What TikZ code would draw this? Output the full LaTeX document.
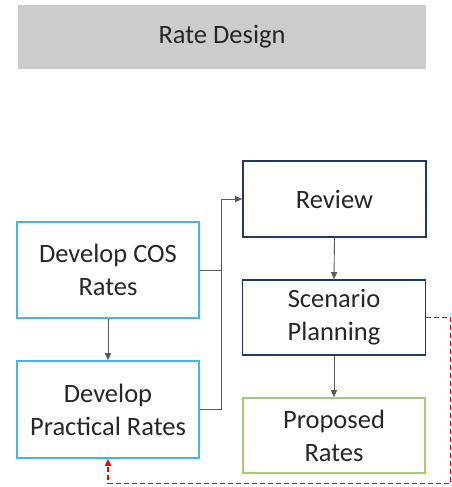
\documentclass[tikz,border=0pt]{standalone}
\usepackage{fontspec}
\setmainfont{Carlito}
\usetikzlibrary{arrows.meta}
\definecolor{titlegray}{HTML}{CCCCCC}
\definecolor{cyanb}{HTML}{3DB8EA}
\definecolor{navyb}{HTML}{203864}
\definecolor{greenb}{HTML}{A0D06E}
\definecolor{linegray}{HTML}{595959}
\definecolor{fbred}{HTML}{FF0000}
\tikzset{
  box/.style={rectangle, draw, line width=1.6pt, inner sep=0pt, align=center,
    font=\fontsize{26.5}{33}\selectfont, text=black!85},
  conn/.style={draw=linegray, line width=0.9pt, -{Triangle[length=7pt,width=6pt]}},
  plain/.style={draw=linegray, line width=0.9pt},
  feedback/.style={color=fbred, line width=1.4pt, dash pattern=on 5pt off 3pt, -{Triangle[length=7pt,width=6pt]}}
}
\begin{document}
\begin{tikzpicture}[x=1pt,y=-1pt]
\useasboundingbox (0,0) rectangle (452,487);
\node[rectangle, fill=titlegray, minimum width=408pt, minimum height=64pt, inner sep=0pt,
  font=\fontsize{26.5}{32}\selectfont, text=black!85] (title) at (222,37) {Rate Design};
\node[box, draw=cyanb, minimum width=182pt, minimum height=96pt] (cos) at (108,270) {Develop COS\\Rates};
\node[box, draw=cyanb, minimum width=182pt, minimum height=97pt] (prac) at (108,409.5) {Develop\\Practical Rates};
\node[box, draw=navyb, minimum width=183pt, minimum height=76pt] (review) at (334.5,199) {Review};
\node[box, draw=navyb, minimum width=183pt, minimum height=75pt] (scen) at (334,317.5) {Scenario\\Planning};
\node[box, draw=greenb, minimum width=182pt, minimum height=75pt] (prop) at (334,435.5) {Proposed\\Rates};
\coordinate (bend) at (221,199);
\draw[conn] (prac.east) -| (bend) -- (review.west);
\draw[plain] (cos.east) -- (cos.east -| bend);
\draw[conn] (cos.south) -- (prac.north);
\draw[conn] (review.south) -- (scen.north);
\draw[conn] (scen.south) -- (prop.north);
\coordinate (r1) at (450.5,317.5);
\coordinate (r2) at (450.5,483.5);
\draw[feedback] (scen.east) -- (r1) -- (r2) -| (prac.south);
\end{tikzpicture}
\end{document}
